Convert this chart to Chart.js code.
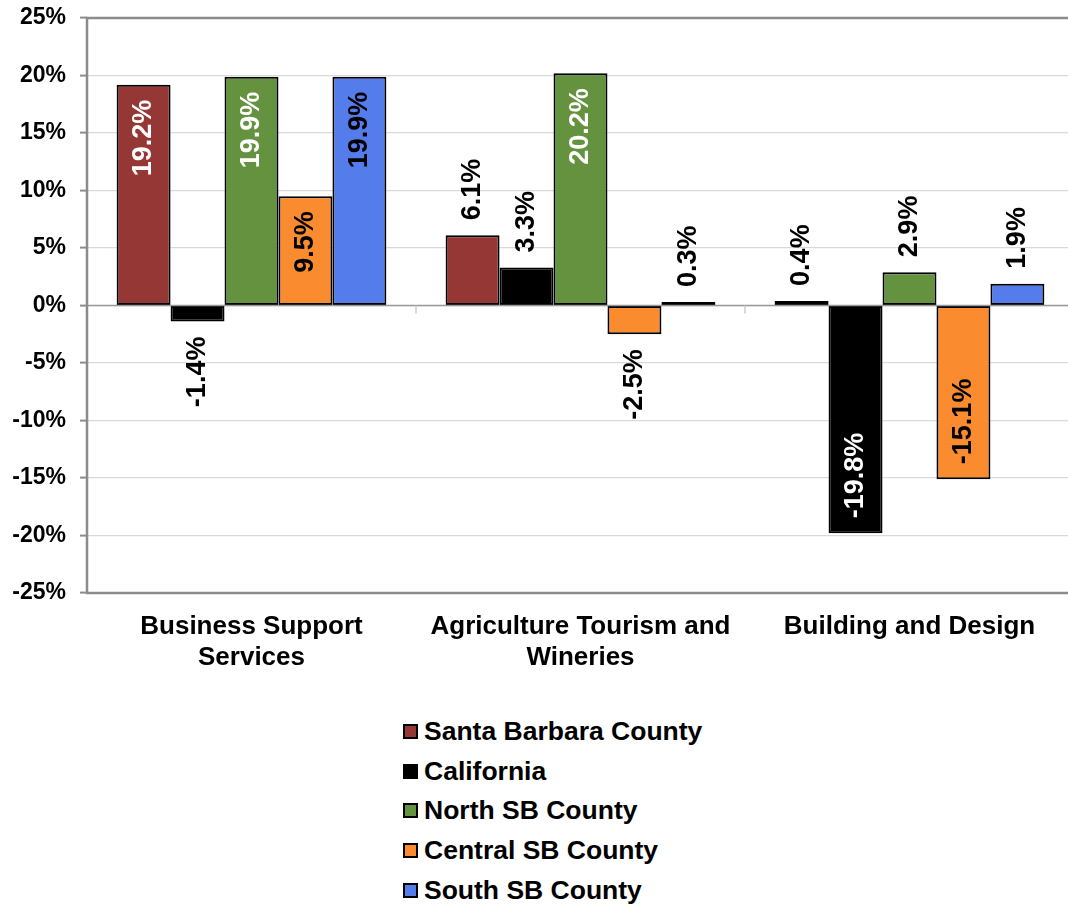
<!DOCTYPE html>
<html>
<head>
<meta charset="utf-8">
<title>Employment change by cluster</title>
<script src="https://cdn.jsdelivr.net/npm/chart.js@4.4.1/dist/chart.umd.min.js"></script>
<style>
    html, body { margin: 0; padding: 0; background: #fff; overflow: hidden; }
    #wrap { position: absolute; left: 0; top: 0; width: 1076px; height: 690px; }
    #legend {
        position: absolute; left: 403px; top: 712px;
        font: bold 26.5px 'Liberation Sans', Arial, Helvetica, sans-serif;
        color: #000;
    }
    #legend .item { display: flex; align-items: center; height: 39.6px; }
    #legend .box { width: 11px; height: 11px; border: 2px solid #000; margin-right: 6px; }
</style>
</head>
<body>
<div id="wrap"><canvas id="myChart"></canvas></div>
<div id="legend"></div>
<script>
const FONT = "'Liberation Sans', Arial, Helvetica, sans-serif";

// Categories and series
const categories = [['Business Support', 'Services'], ['Agriculture Tourism and', 'Wineries'], 'Building and Design'];
const seriesNames = ['Santa Barbara County', 'California', 'North SB County', 'Central SB County', 'South SB County'];
const santaBarbara = [19.2, 6.1, 0.4];
const california = [-1.4, 3.3, -19.8];
const northSB = [19.9, 20.2, 2.9];
const centralSB = [9.5, -2.5, -15.1];
const southSB = [19.9, 0.3, 1.9];
const yTicks = [-25, -20, -15, -10, -5, 0, 5, 10, 15, 20, 25];

const seriesColors = ['#953735', '#000000', '#65923f', '#fb8b2f', '#547ceb'];
const insideLabelColors = ['#ffffff', '#ffffff', '#ffffff', '#000000', '#000000'];

const values = [santaBarbara, california, northSB, centralSB, southSB];

// rotated value labels: big bars get the label inside near the end, small ones outside
const barLabels = {
    id: 'barLabels',
    afterDatasetsDraw(chart) {
        const ctx = chart.ctx;
        ctx.save();
        ctx.font = 'bold 27px ' + FONT;
        ctx.textAlign = 'center';
        ctx.textBaseline = 'middle';
        chart.data.datasets.forEach((ds, i) => {
            const meta = chart.getDatasetMeta(i);
            meta.data.forEach((bar, j) => {
                const v = ds.data[j];
                const text = v.toFixed(1) + '%';
                const w = ctx.measureText(text).width;
                const inside = Math.abs(v) >= 9;
                const gap = 15;
                let cy;
                if (v >= 0) {
                    cy = inside ? bar.y + gap + w / 2 : bar.y - gap - w / 2;
                } else {
                    cy = inside ? bar.y - gap - w / 2 : bar.y + gap + w / 2;
                }
                ctx.fillStyle = inside ? insideLabelColors[i] : '#000';
                ctx.save();
                ctx.translate(bar.x, cy);
                ctx.rotate(-Math.PI / 2);
                ctx.fillText(text, 0, 0);
                ctx.restore();
            });
        });
        ctx.restore();
    }
};

// plot frame, zero line and small category ticks on it
const plotFrame = {
    id: 'plotFrame',
    afterDatasetsDraw(chart) {
        const { ctx, chartArea: a, scales: { x, y } } = chart;
        const y0 = y.getPixelForValue(0);
        ctx.save();
        ctx.strokeStyle = '#999999';
        ctx.lineWidth = 1.5;
        ctx.beginPath();
        ctx.moveTo(a.left, y0);
        ctx.lineTo(a.right, y0);
        ctx.stroke();
        ctx.strokeStyle = '#cccccc';
        ctx.lineWidth = 1.5;
        for (let i = 0; i < x.ticks.length - 1; i++) {
            const xb = (x.getPixelForTick(i) + x.getPixelForTick(i + 1)) / 2;
            ctx.beginPath();
            ctx.moveTo(xb, y0);
            ctx.lineTo(xb, y0 + 8);
            ctx.stroke();
        }
        ctx.strokeStyle = '#8c8c8c';
        ctx.lineWidth = 2.5;
        ctx.strokeRect(a.left, a.top, a.right - a.left, a.bottom - a.top);
        ctx.restore();
    }
};

document.addEventListener('DOMContentLoaded', () => {
    const ctx = document.getElementById('myChart').getContext('2d');
    const chart = new Chart(ctx, {
        type: 'bar',
        data: {
            labels: categories,
            datasets: seriesNames.map((name, i) => ({
                label: name,
                data: values[i],
                backgroundColor: seriesColors[i],
                borderColor: '#000000',
                borderWidth: 2,
                borderSkipped: false,
                categoryPercentage: 0.82,
                barPercentage: 1.0
            }))
        },
        options: {
            responsive: true,
            maintainAspectRatio: false,
            animation: false,
            layout: { padding: { left: 0, top: 18, right: 2, bottom: 0 } },
            scales: {
                y: {
                    min: -25,
                    max: 25,
                    afterBuildTicks: (scale) => {
                        scale.ticks = yTicks.map(v => ({ value: v }));
                    },
                    afterFit: (scale) => {
                        scale.width = 87;
                        // the outer labels may hang over the frame
                        scale.paddingTop = 0;
                        scale.paddingBottom = 0;
                    },
                    ticks: {
                        color: '#000',
                        padding: 14,
                        font: { family: FONT, size: 23, weight: 'bold' },
                        callback: (value) => value + '%'
                    },
                    grid: {
                        color: '#d9d9d9',
                        lineWidth: 1.2,
                        tickColor: '#8c8c8c',
                        tickLength: 7,
                        tickWidth: 2
                    },
                    border: { display: false }
                },
                x: {
                    afterFit: (scale) => { scale.height = 97; },
                    ticks: {
                        color: '#000',
                        padding: 18,
                        maxRotation: 0,
                        font: { family: FONT, size: 26, weight: 'bold', lineHeight: 1.2 }
                    },
                    grid: { display: false, drawTicks: false },
                    border: { display: false }
                }
            },
            plugins: {
                legend: { display: false },
                tooltip: { enabled: false }
            }
        },
        plugins: [plotFrame, barLabels]
    });

    // vertical legend below the plot
    const legend = document.getElementById('legend');
    chart.data.datasets.forEach((ds) => {
        const item = document.createElement('div');
        item.className = 'item';
        const box = document.createElement('span');
        box.className = 'box';
        box.style.background = ds.backgroundColor;
        const label = document.createElement('span');
        label.textContent = ds.label;
        item.appendChild(box);
        item.appendChild(label);
        legend.appendChild(item);
    });
});
</script>
</body>
</html>
